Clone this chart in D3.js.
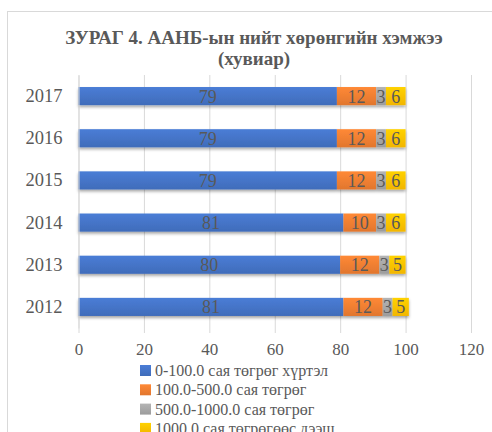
<!DOCTYPE html>
<html><head><meta charset="utf-8">
<script src="https://cdn.jsdelivr.net/npm/d3@7"></script>
<style>body{margin:0;background:#fff}svg{display:block}</style>
</head><body>
<script>
const years = ["2017","2016","2015","2014","2013","2012"];
const seriesNames = ["0-100.0 сая төгрөг хүртэл","100.0-500.0 сая төгрөг","500.0-1000.0 сая төгрөг","1000.0 сая төгрөгөөс дээш"];
const s1 = [79,79,79,81,80,81];
const s2 = [12,12,12,10,12,12];
const s3 = [3,3,3,3,3,3];
const s4 = [6,6,6,6,5,5];
const xTicks = [0,20,40,60,80,100,120];
const colors = ["#4472C4","#ED7D31","#A5A5A5","#FFC000"];
const titleLines = ["ЗУРАГ 4. ААНБ-ын нийт хөрөнгийн хэмжээ","(хувиар)"];

const W=492,H=432;
const svg=d3.select("body").append("svg").attr("width",W).attr("height",H);
const defs=svg.append("defs");
const f=defs.append("filter").attr("id","sh").attr("x","-5%").attr("y","-30%").attr("width","110%").attr("height","180%");
f.append("feDropShadow").attr("dx",0).attr("dy",2).attr("stdDeviation",1.5).attr("flood-color","#000").attr("flood-opacity",0.35);
colors.forEach((c,i)=>{
  const g=defs.append("linearGradient").attr("id","g"+i).attr("x1",0).attr("y1",0).attr("x2",0).attr("y2",1);
  g.append("stop").attr("offset","0%").attr("stop-color",d3.color(c).brighter(0.25));
  g.append("stop").attr("offset","100%").attr("stop-color",d3.color(c).darker(0.15));
});

svg.append("rect").attr("x",7.5).attr("y",11.5).attr("width",500).attr("height",440)
  .attr("fill","#fff").attr("stroke","#d9d9d9");

const font="Liberation Serif, Times New Roman, serif";
const tg=svg.append("text").attr("text-anchor","middle").attr("font-family",font)
  .attr("font-weight","bold").attr("font-size",19).attr("fill","#595959");
titleLines.forEach((t,i)=>tg.append("tspan").attr("x",254).attr("y",43.5+i*21.5).text(t));

const x=d3.scaleLinear().domain([0,120]).range([78.5,471]);
const y=d3.scaleBand().domain(years).range([75,328]).paddingInner(0.57).paddingOuter(0.285);

// gridlines
svg.append("g").selectAll("line").data(xTicks).join("line")
  .attr("x1",d=>x(d)+0.5).attr("x2",d=>x(d)+0.5).attr("y1",75).attr("y2",333)
  .attr("stroke","#d9d9d9").attr("stroke-width",1);

const data=years.map((yr,i)=>({yr,vals:[s1[i],s2[i],s3[i],s4[i]]}));
const bars=svg.append("g");
data.forEach(d=>{
  let acc=0;
  const g=bars.append("g").attr("filter","url(#sh)");
  const segs=d.vals.map((v,k)=>{const s={k,v,x0:acc,x1:acc+v};acc+=v;return s;});
  g.selectAll("rect").data(segs).join("rect")
    .attr("x",s=>x(s.x0)).attr("width",s=>x(s.x1)-x(s.x0))
    .attr("y",y(d.yr)).attr("height",y.bandwidth())
    .attr("fill",s=>`url(#g${s.k})`);
  bars.append("g").selectAll("text").data(segs).join("text")
    .attr("x",s=>(x(s.x0)+x(s.x1))/2).attr("y",y(d.yr)+y.bandwidth()/2+6.5)
    .attr("text-anchor","middle").attr("font-family",font).attr("font-size",18)
    .attr("fill","#595959").text(s=>s.v);
});

// x axis labels
const xa=svg.append("g").attr("transform","translate(0,333)")
  .call(d3.axisBottom(x).tickValues(xTicks).tickSize(0).tickPadding(10));
xa.attr("font-family",font);
xa.select(".domain").remove();
xa.selectAll("text").attr("font-family",font).attr("font-size",17).attr("fill","#595959");

// y axis labels
const ya=svg.append("g").attr("transform","translate(78.5,0)")
  .call(d3.axisLeft(y).tickSize(0).tickPadding(16));
ya.attr("font-family",font);
ya.select(".domain").attr("stroke","#d9d9d9");
ya.selectAll("text").attr("font-family",font).attr("font-size",18.5).attr("fill","#595959");

// legend
const lg=svg.append("g");
seriesNames.forEach((n,i)=>{
  const yy=370.5+i*19.3;
  lg.append("rect").attr("x",140).attr("y",yy-5.5).attr("width",11).attr("height",11).attr("fill",`url(#g${i})`);
  lg.append("text").attr("x",155).attr("y",yy+5.5).attr("font-family",font).attr("font-size",16)
    .attr("fill","#595959").text(n);
});
</script>
</body></html>
